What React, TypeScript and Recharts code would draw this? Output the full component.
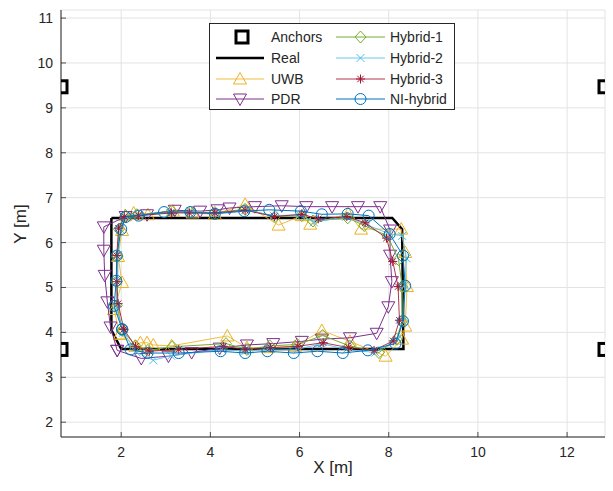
import { ScatterChart, Scatter, XAxis, YAxis, CartesianGrid } from 'recharts';

const xTicks = [2, 4, 6, 8, 10, 12];
const yTicks = [2, 3, 4, 5, 6, 7, 8, 9, 10, 11];

const anchors = [[0.65, 9.47], [12.85, 9.47], [0.65, 3.62], [12.85, 3.62]];

const realPath = [[1.78, 6.55], [8.08, 6.55], [8.3, 6.3], [8.33, 3.63], [2.0, 3.63], [1.78, 4.05], [1.78, 6.55]];

const uwb = [
  [1.97, 3.96], [1.84, 4.51], [2.02, 5.11], [1.93, 5.69], [2.02, 6.27], [2.09, 6.6], [2.28, 6.66], [2.6, 6.62],
  [3.16, 6.7], [3.6, 6.66], [4.1, 6.63], [4.78, 6.85], [5.53, 6.39], [6.05, 6.6], [6.24, 6.41], [7.09, 6.64],
  [7.38, 6.3], [8.28, 6.3], [8.37, 5.78], [8.41, 5.02], [8.37, 4.14], [8.3, 3.85], [7.93, 3.47], [7.13, 3.8],
  [6.5, 4.04], [5.9, 3.69], [5.3, 3.66], [4.82, 3.66], [4.38, 3.92], [3.13, 3.7], [2.72, 3.72], [2.58, 3.77],
  [2.43, 3.77], [2.32, 3.69], [1.97, 3.96],
];

const pdr = [
  [1.91, 3.6], [1.76, 4.12], [1.69, 4.68], [1.63, 5.27], [1.61, 5.83], [1.61, 6.35], [2.1, 6.58], [2.58, 6.62],
  [3.2, 6.72], [3.77, 6.7], [4.16, 6.73], [4.43, 6.77], [5.0, 6.8], [5.6, 6.82], [6.15, 6.8], [6.73, 6.8],
  [7.31, 6.8], [7.81, 6.8], [8.03, 6.28], [8.03, 5.72], [8.07, 5.13], [7.99, 4.57], [7.73, 3.98], [7.13, 3.88],
  [6.5, 3.85], [6.05, 3.8], [5.41, 3.75], [4.82, 3.72], [4.21, 3.65], [3.58, 3.55], [3.06, 3.47], [2.45, 3.42],
  [1.91, 3.6],
];

const hybrid1 = [
  [2.03, 4.05], [1.9, 4.6], [1.9, 5.13], [1.92, 5.7], [1.95, 6.3], [2.1, 6.6], [2.35, 6.62], [3.13, 6.7],
  [3.55, 6.68], [4.1, 6.67], [4.78, 6.74], [5.45, 6.58], [6.05, 6.6], [6.3, 6.48], [7.08, 6.55], [7.45, 6.38],
  [7.97, 6.15], [8.22, 5.62], [8.3, 5.02], [8.3, 4.25], [8.18, 3.85], [7.78, 3.55], [7.12, 3.7], [6.52, 3.93],
  [5.95, 3.73], [5.33, 3.7], [4.82, 3.62], [4.35, 3.75], [3.15, 3.68], [2.6, 3.6], [2.32, 3.7], [2.03, 4.05],
];

const hybrid2 = [
  [2.05, 4.0], [1.88, 4.58], [1.92, 5.15], [1.93, 5.72], [1.98, 6.3], [2.1, 6.58], [2.4, 6.62], [3.1, 6.66],
  [3.55, 6.7], [4.12, 6.65], [4.8, 6.72], [5.42, 6.6], [6.0, 6.62], [6.32, 6.45], [7.05, 6.58], [7.5, 6.4],
  [8.0, 6.2], [8.3, 6.15], [8.4, 5.65], [8.36, 5.05], [8.32, 4.25], [8.2, 3.85], [7.7, 3.55], [7.05, 3.62],
  [6.5, 3.75], [5.95, 3.62], [5.3, 3.63], [4.78, 3.58], [4.25, 3.62], [3.12, 3.48], [2.72, 3.38], [2.35, 3.55],
  [2.05, 4.0],
];

const hybrid3 = [
  [2.06, 4.07], [1.93, 4.64], [1.9, 5.13], [1.9, 5.71], [1.94, 6.32], [2.07, 6.58], [2.39, 6.6], [3.13, 6.66],
  [3.53, 6.66], [4.1, 6.66], [4.78, 6.72], [5.44, 6.58], [6.05, 6.63], [6.42, 6.53], [7.06, 6.58], [7.47, 6.44],
  [7.95, 6.1], [8.09, 5.58], [8.21, 5.02], [8.24, 4.27], [8.1, 3.81], [7.67, 3.6], [7.1, 3.66], [6.53, 3.77],
  [5.96, 3.69], [5.35, 3.66], [4.78, 3.62], [4.29, 3.69], [3.29, 3.62], [2.63, 3.58], [2.32, 3.69], [2.06, 4.07],
];

const niHybrid = [
  [2.02, 4.07], [1.84, 4.59], [1.89, 5.15], [1.9, 5.71], [2.0, 6.3], [2.1, 6.57], [2.39, 6.6], [2.96, 6.68],
  [3.55, 6.68], [4.1, 6.64], [4.76, 6.7], [5.32, 6.73], [6.03, 6.7], [6.5, 6.63], [7.08, 6.64], [7.55, 6.6],
  [8.02, 6.19], [8.32, 5.71], [8.37, 5.04], [8.32, 4.25], [8.15, 3.75], [7.53, 3.6], [6.97, 3.54], [6.4, 3.58],
  [5.87, 3.54], [5.28, 3.58], [4.78, 3.54], [4.23, 3.58], [3.29, 3.54], [2.59, 3.54], [2.21, 3.62], [2.02, 4.07],
];

const toPts = (arr: number[][]) => arr.map(([x, y]) => ({ x, y }));

const FONT = '"Liberation Sans", Arial, Helvetica, sans-serif';
const TXT = '#262626';

type MarkProps = { cx?: number; cy?: number; color: string };

function Square({ cx = 0, cy = 0 }: { cx?: number; cy?: number }) {
  return <rect x={cx - 6} y={cy - 6} width={12} height={12} fill="none" stroke="#000" strokeWidth={3} />;
}
function TriUp({ cx = 0, cy = 0, color }: MarkProps) {
  return <polygon points={`${cx},${cy - 6.5} ${cx - 6.5},${cy + 5} ${cx + 6.5},${cy + 5}`} fill="none" stroke={color} strokeWidth={1} />;
}
function TriDown({ cx = 0, cy = 0, color }: MarkProps) {
  return <polygon points={`${cx},${cy + 6.5} ${cx - 6.5},${cy - 5} ${cx + 6.5},${cy - 5}`} fill="none" stroke={color} strokeWidth={1} />;
}
function Diamond({ cx = 0, cy = 0, color }: MarkProps) {
  return <polygon points={`${cx},${cy - 6} ${cx + 5.5},${cy} ${cx},${cy + 6} ${cx - 5.5},${cy}`} fill="none" stroke={color} strokeWidth={1} />;
}
function Cross({ cx = 0, cy = 0, color }: MarkProps) {
  const s = 4;
  return <path d={`M${cx - s},${cy - s}L${cx + s},${cy + s}M${cx - s},${cy + s}L${cx + s},${cy - s}`} stroke={color} strokeWidth={1} />;
}
function Star({ cx = 0, cy = 0, color }: MarkProps) {
  const s = 4.5;
  const d = 3.2;
  return (
    <path
      d={`M${cx - s},${cy}L${cx + s},${cy}M${cx},${cy - s}L${cx},${cy + s}M${cx - d},${cy - d}L${cx + d},${cy + d}M${cx - d},${cy + d}L${cx + d},${cy - d}`}
      stroke={color}
      strokeWidth={1}
    />
  );
}
function Circ({ cx = 0, cy = 0, color }: MarkProps) {
  return <circle cx={cx} cy={cy} r={5.5} fill="none" stroke={color} strokeWidth={1} />;
}

const series = [
  { name: 'UWB', data: uwb, color: '#EDB120', opacity: 0.85, Mark: TriUp },
  { name: 'PDR', data: pdr, color: '#7E2F8E', opacity: 1, Mark: TriDown },
  { name: 'Hybrid-1', data: hybrid1, color: '#77AC30', opacity: 1, Mark: Diamond },
  { name: 'Hybrid-2', data: hybrid2, color: '#4DBEEE', opacity: 0.85, Mark: Cross },
  { name: 'Hybrid-3', data: hybrid3, color: '#A2142F', opacity: 0.85, Mark: Star },
  { name: 'NI-hybrid', data: niHybrid, color: '#0072BD', opacity: 1, Mark: Circ },
];

function XTick({ x, y, payload }: any) {
  return (
    <g>
      <line x1={x} x2={x} y1={437} y2={432} stroke={TXT} strokeWidth={0.8} />
      <text x={x} y={y + 12} textAnchor="middle" fontSize={14} fontFamily={FONT} fill={TXT}>
        {payload.value}
      </text>
    </g>
  );
}
function YTick({ x, y, payload }: any) {
  return (
    <g>
      <line x1={61} x2={66} y1={y} y2={y} stroke={TXT} strokeWidth={0.8} />
      <text x={x} y={y + 5} textAnchor="end" fontSize={14} fontFamily={FONT} fill={TXT}>
        {payload.value}
      </text>
    </g>
  );
}

function LegendBox() {
  const rows1 = [
    { label: 'Anchors', el: <rect x={20} y={-6} width={12} height={12} fill="none" stroke="#000" strokeWidth={3} /> },
    { label: 'Real', el: <line x1={0} x2={48} y1={0} y2={0} stroke="#000" strokeWidth={2.5} /> },
    { label: 'UWB', s: series[0] },
    { label: 'PDR', s: series[1] },
  ];
  const rows2 = [series[2], series[3], series[4], series[5]];
  const rowY = [13, 34, 55, 75];
  return (
    <div
      style={{
        position: 'absolute',
        left: 209,
        top: 23,
        width: 246,
        height: 87,
        border: `1px solid ${TXT}`,
        background: '#fff',
        boxSizing: 'border-box',
        fontFamily: FONT,
      }}
    >
      <svg width={244} height={85} style={{ position: 'absolute', left: 0, top: 0 }}>
        {rows1.map((r, i) => (
          <g key={r.label} transform={`translate(6,${rowY[i]})`}>
            {r.el}
            {r.s && (
              <>
                <line x1={0} x2={48} y1={0} y2={0} stroke={r.s.color} strokeOpacity={r.s.opacity} strokeWidth={1} />
                <r.s.Mark cx={24} cy={0} color={r.s.color} />
              </>
            )}
            <text x={55} y={5} fontSize={14} fill={TXT}>
              {r.label}
            </text>
          </g>
        ))}
        {rows2.map((s, i) => (
          <g key={s.name} transform={`translate(126,${rowY[i]})`}>
            <line x1={0} x2={49} y1={0} y2={0} stroke={s.color} strokeOpacity={s.opacity} strokeWidth={1} />
            <s.Mark cx={24.5} cy={0} color={s.color} />
            <text x={54} y={5} fontSize={14} fill={TXT}>
              {s.name}
            </text>
          </g>
        ))}
      </svg>
    </div>
  );
}

export default function App() {
  return (
    <div style={{ position: 'absolute', left: 0, top: 0, width: 613, height: 491, background: '#fff' }}>
      <ScatterChart width={613} height={491} margin={{ top: 10, right: 8, bottom: 0, left: 0 }}>
        <CartesianGrid stroke="#e3e3e3" strokeWidth={1} />
        <XAxis
          type="number"
          dataKey="x"
          domain={[0.65, 12.85]}
          ticks={xTicks}
          allowDataOverflow
          height={54}
          tickLine={false}
          stroke={TXT}
          tick={<XTick />}
          label={{
            content: () => (
              <text x={333} y={473} textAnchor="middle" fontSize={17} fontFamily={FONT} fill={TXT}>
                X [m]
              </text>
            ),
          }}
        />
        <YAxis
          type="number"
          dataKey="y"
          domain={[1.67, 11.18]}
          ticks={yTicks}
          allowDataOverflow
          width={61}
          tickLine={false}
          stroke={TXT}
          tick={<YTick />}
          label={{
            content: () => (
              <text x={26} y={224} transform="rotate(-90 26 224)" textAnchor="middle" fontSize={17} fontFamily={FONT} fill={TXT}>
                Y [m]
              </text>
            ),
          }}
        />
        <Scatter name="Anchors" data={toPts(anchors)} isAnimationActive={false} shape={(p: any) => <Square cx={p.cx} cy={p.cy} />} />
        <Scatter
          name="Real"
          data={toPts(realPath)}
          isAnimationActive={false}
          line={{ stroke: '#000', strokeWidth: 2.5 }}
          shape={() => <g />}
        />
        {series.map((s) => (
          <Scatter
            key={s.name}
            name={s.name}
            data={toPts(s.data)}
            isAnimationActive={false}
            line={{ stroke: s.color, strokeWidth: 1, strokeOpacity: s.opacity }}
            shape={(p: any) => <s.Mark cx={p.cx} cy={p.cy} color={s.color} />}
          />
        ))}
      </ScatterChart>
      <LegendBox />
    </div>
  );
}
